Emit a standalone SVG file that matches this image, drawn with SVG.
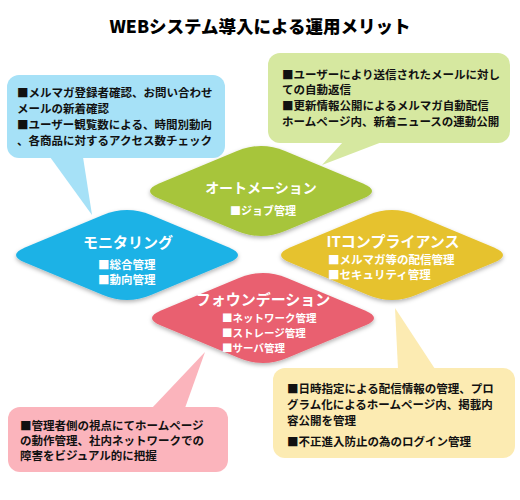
<svg xmlns="http://www.w3.org/2000/svg" width="520" height="500" viewBox="0 0 520 500">
<style>
text{font-family:"Noto Sans CJK JP","Noto Sans",sans-serif;font-weight:bold}
.title{font-size:17.5px;fill:#000;font-weight:900}
.ct{font-size:11.5px;fill:#111}
.dt{font-size:15px;fill:#fff}
.di{font-size:11px;fill:#fff}
</style>
<defs>
<path id="dia" d="M -102,-7.5 L -24,-40 Q 0,-50 24,-40 L 102,-7.5 Q 120,0 102,7.5 L 24,40 Q 0,50 -24,40 L -102,7.5 Q -120,0 -102,-7.5 Z"/>
<filter id="sh" x="-20%" y="-20%" width="140%" height="150%">
<feDropShadow dx="0" dy="2" stdDeviation="2" flood-color="#000" flood-opacity="0.3"/>
</filter>
</defs>
<rect width="520" height="500" fill="#fff"/>
<text class="title" x="260" y="33" text-anchor="middle">WEBシステム導入による運用メリット</text>

<g id="callouts">
<g id="callout-monitoring" fill="#a6e1f7">
<rect x="7" y="75" width="218" height="83" rx="12"/>
<polygon points="50,157 83,157 92,215"/>
<text class="ct" x="17" y="97">■メルマガ登録者確認、お問い合わせ</text>
<text class="ct" x="17" y="113">メールの新着確認</text>
<text class="ct" x="17" y="129">■ユーザー観覧数による、時間別動向</text>
<text class="ct" x="17" y="145">、各商品に対するアクセス数チェック</text>
</g>
<g id="callout-automation" fill="#d6e8a0">
<rect x="268" y="53" width="242" height="90" rx="12"/>
<polygon points="343,142 382,142 322,165"/>
<text class="ct" x="282" y="79">■ユーザーにより送信されたメールに対し</text>
<text class="ct" x="282" y="94">ての自動返信</text>
<text class="ct" x="282" y="110">■更新情報公開によるメルマガ自動配信</text>
<text class="ct" x="282" y="126">ホームページ内、新着ニュースの連動公開</text>
</g>
<g id="callout-foundation" fill="#fbb4bc">
<rect x="8" y="407" width="220" height="65" rx="12"/>
<polygon points="152,408 185,408 205,352"/>
<text class="ct" x="20" y="430">■管理者側の視点にてホームページ</text>
<text class="ct" x="20" y="445">の動作管理、社内ネットワークでの</text>
<text class="ct" x="20" y="460">障害をビジュアル的に把握</text>
</g>
<g id="callout-it" fill="#fcebb2">
<rect x="273" y="368" width="242" height="90" rx="12"/>
<polygon points="398,369 435,369 395,308"/>
<text class="ct" x="287" y="393">■日時指定による配信情報の管理、プロ</text>
<text class="ct" x="287" y="409">グラム化によるホームページ内、掲載内</text>
<text class="ct" x="287" y="425">容公開を管理</text>
<text class="ct" x="287" y="446">■不正進入防止の為のログイン管理</text>
</g>
</g>

<g id="connectors"></g>

<g id="automation">
<use href="#dia" transform="translate(261,191)" fill="#a7c53a" filter="url(#sh)"/>
<text class="dt" x="261" y="193" text-anchor="middle" style="font-size:14px">オートメーション</text>
<text class="di" x="230" y="215">■ジョブ管理</text>
</g>
<g id="monitoring">
<use href="#dia" transform="translate(127,255)" fill="#1fb2e6" filter="url(#sh)"/>
<text class="dt" x="128" y="248" text-anchor="middle">モニタリング</text>
<text class="di" x="98" y="269" style="font-size:11.5px">■総合管理</text>
<text class="di" x="98" y="284" style="font-size:11.5px">■動向管理</text>
</g>
<g id="it-compliance">
<use href="#dia" transform="translate(392,255)" fill="#e6c22e" filter="url(#sh)"/>
<text class="dt" x="393" y="247" text-anchor="middle">ITコンプライアンス</text>
<text class="di" x="328" y="264" style="font-size:11.5px">■メルマガ等の配信管理</text>
<text class="di" x="328" y="279" style="font-size:11.5px">■セキュリティ管理</text>
</g>
<g id="foundation">
<use href="#dia" transform="translate(263,318)" fill="#e9606f" filter="url(#sh)"/>
<text class="dt" x="263" y="305" text-anchor="middle">フォウンデーション</text>
<text class="di" x="222" y="322" style="font-size:10.5px">■ネットワーク管理</text>
<text class="di" x="222" y="337" style="font-size:10.5px">■ストレージ管理</text>
<text class="di" x="222" y="352" style="font-size:10.5px">■サーバ管理</text>
</g>
</svg>
